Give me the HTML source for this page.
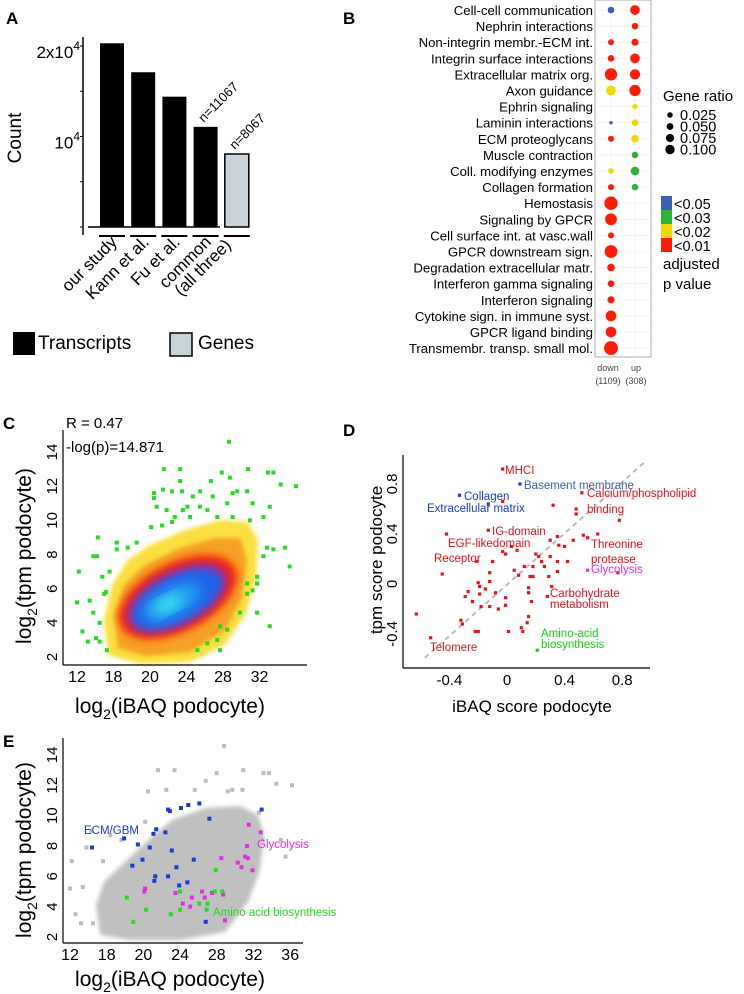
<!DOCTYPE html>
<html><head><meta charset="utf-8"><style>
html,body{margin:0;padding:0;background:#fff;}
svg{display:block;font-family:"Liberation Sans",sans-serif;}
</style></head><body>
<svg id="fig" width="744" height="994" viewBox="0 0 744 994">
<defs>
<filter id="blur2" x="-30%" y="-30%" width="160%" height="160%"><feGaussianBlur stdDeviation="2"/></filter>
<filter id="blur3" x="-30%" y="-30%" width="160%" height="160%"><feGaussianBlur stdDeviation="4"/></filter>
<filter id="blur6" x="-30%" y="-30%" width="160%" height="160%"><feGaussianBlur stdDeviation="7"/></filter>
</defs>
<g font-weight="bold" font-size="17">
<text x="6" y="24">A</text>
<text x="343" y="24">B</text>
<text x="3" y="429">C</text>
<text x="343" y="436">D</text>
<text x="3" y="747">E</text>
</g>
<g id="pA"></g>
<g id="pB"></g>
<g id="pC"></g>
<g id="pD"></g>
<g id="pE"></g>
</svg>
<script>
// ---------- Panel A data ----------
const aCategories = ["our study","Kann et al.","Fu et al.","common","(all three)"];
const aValues = [20300, 17100, 14400, 11067, 8067];
const aKinds = ["Transcripts","Transcripts","Transcripts","Transcripts","Genes"];
const aNotes = ["","","","n=11067","n=8067"];
// ---------- Panel B data ----------
const bTerms = ["Cell-cell communication","Nephrin interactions","Non-integrin membr.-ECM int.","Integrin surface interactions","Extracellular matrix org.","Axon guidance","Ephrin signaling","Laminin interactions","ECM proteoglycans","Muscle contraction","Coll. modifying enzymes","Collagen formation","Hemostasis","Signaling by GPCR","Cell surface int. at vasc.wall","GPCR downstream sign.","Degradation extracellular matr.","Interferon gamma signaling","Interferon signaling","Cytokine sign. in immune syst.","GPCR ligand binding","Transmembr. transp. small mol."];
const bDownRatio = [0.04,null,0.035,0.04,0.095,0.07,null,0.01,0.035,null,0.03,0.035,0.105,0.09,0.035,0.1,0.05,0.04,0.045,0.08,0.08,0.11];
const bDownP = [0.05,null,0.01,0.01,0.01,0.02,null,0.05,0.01,null,0.02,0.01,0.01,0.01,0.01,0.01,0.01,0.01,0.01,0.01,0.01,0.01];
const bUpRatio = [0.07,0.04,0.045,0.07,0.075,0.085,0.03,0.04,0.05,0.04,0.06,0.04,null,null,null,null,null,null,null,null,null,null];
const bUpP = [0.01,0.01,0.01,0.01,0.01,0.01,0.02,0.02,0.02,0.03,0.03,0.03,null,null,null,null,null,null,null,null,null,null];
const bSizeTicks = ["0.025","0.050","0.075","0.100"];
const bPLabels = ["<0.05","<0.03","<0.02","<0.01"];
// ---------- Panel C data ----------
const cGreenX = [28.8,21.6,23.4,23.4,20.5,21.5,20.5,22.5,23.6,25.6,26.8,28.0,28.9,29.7,30.8,30.9,33.1,33.7,34.5,36.2,20.8,21.9,22.8,23.7,24.5,22.5,20.2,21.4,25.6,27.5,29.2,31.1,32.6,33.3,31.4,28.6,26.4,27.0,29.2,24.8,24.2,14.3,14.2,16.4,16.4,17.6,18.6,12.2,13.8,14.8,15.6,15.2,15.0,12.0,13.4,12.6,13.2,14.1,14.5,15.3,14.5,13.8,35.0,35.5,33.7,33.0,32.6,31.9,31.4,30.8,31.9,33.3,27.8,28.6,27.5,26.4,27.8,25.3,31.9,30.8,30.0];
const cGreenY = [14.6,13.0,13.0,12.3,11.6,11.8,11.3,11.7,11.7,11.7,12.3,12.8,12.5,11.7,11.7,13.0,12.8,12.8,12.1,12.0,10.8,10.6,10.2,10.6,10.2,9.9,9.6,9.7,10.8,10.2,10.2,10.0,10.2,10.8,11.0,11.0,10.6,11.4,11.6,11.4,10.8,9.0,7.9,8.7,8.3,8.4,8.7,7.0,7.9,6.7,7.0,5.8,5.7,5.2,5.3,3.5,2.9,3.1,2.9,2.4,4.0,4.6,8.4,7.3,8.3,8.4,7.9,6.7,5.9,5.7,4.6,3.8,3.8,3.6,3.0,2.8,2.4,2.4,6.3,6.3,4.6];
const cXTicks = [12,18,20,24,28,32];
const cYTicks = [2,4,6,8,10,12,14];
// ---------- Panel D data ----------
const dX = [-0.03,-0.03,0.52,0.32,0.48,0.48,0.78,-0.13,-0.42,0.03,0.07,0.30,0.35,0.36,0.40,0.46,0.53,0.56,0.63,-0.03,-0.01,-0.21,-0.10,0.20,0.22,0.30,0.35,0.42,0.24,0.26,0.12,0.18,0.05,0.08,-0.12,-0.45,0.16,0.18,0.29,0.35,0.77,-0.12,-0.20,-0.19,0.31,-0.27,-0.29,-0.15,-0.19,-0.08,0.15,0.15,0.28,-0.24,-0.18,-0.12,-0.01,-0.01,-0.06,0.17,-0.63,-0.32,-0.31,0.15,0.14,-0.22,-0.20,0.01,0.10,0.11,-0.53];
const dY = [0.92,0.66,0.73,0.63,0.60,0.56,0.51,0.43,0.40,0.30,0.27,0.35,0.38,0.31,0.30,0.35,0.39,0.37,0.40,0.26,0.24,0.18,0.18,0.24,0.22,0.22,0.18,0.18,0.18,0.14,0.14,0.14,0.11,0.07,0.09,0.08,0.06,0.06,0.06,0.10,0.09,0.02,0.01,-0.02,-0.02,-0.06,-0.10,-0.04,-0.08,-0.07,-0.03,-0.07,-0.10,-0.14,-0.18,-0.18,-0.11,-0.17,-0.20,-0.14,-0.24,-0.29,-0.32,-0.26,-0.31,-0.38,-0.38,-0.38,-0.35,-0.38,-0.43];
const dBlueX = [0.09,-0.33,-0.13];
const dBlueY = [0.80,0.71,0.64];
const dMagX = [0.56]; const dMagY = [0.11];
const dGreenX = [0.21]; const dGreenY = [-0.53];
const dTicks = ["-0.4","0","0.4","0.8"];
// ---------- Panel E data ----------
const eBlueX = [14.4,17.9,18.8,19.4,19.9,20.7,21.1,21.4,22.4,22.7,22.9,24.1,24.9,26.1,27.2,23.1,23.6,21.3,21.2,22.7,23.9,24.8,25.5,32.9,26.8];
const eBlueY = [7.9,8.5,6.7,8.1,7.1,7.9,8.8,9.1,8.9,10.4,10.3,10.5,10.7,10.8,9.8,7.7,6.6,6.0,5.7,6.0,5.4,5.6,7.1,10.4,3.0];
const eMagX = [20.2,20.1,23.5,24.3,25.1,25.3,26.4,26.7,27.5,28.7,28.9,28.5,31.5,32.8,31.3,31.1,31.4,30.3,30.7,31.9];
const eMagY = [5.2,5.0,4.9,4.2,4.0,4.6,5.0,4.6,4.9,4.8,3.1,7.2,9.4,8.9,8.0,7.3,7.2,6.9,6.6,6.4];
const eGreenX = [18.2,20.3,18.9,23.0,24.0,24.0,26.1,26.9,27.0,27.8,28.6,27.9];
const eGreenY = [4.6,3.8,3.0,3.5,5.0,3.8,4.2,3.8,4.2,5.0,5.0,6.4];
const eGreyX = [28.8,21.6,23.4,20.5,22.5,25.6,26.8,28.0,29.7,30.8,30.9,33.1,33.7,36.2,14.3,16.4,12.2,13.8,12.0,13.4,12.6,13.2,35.0,35.5,33.0,31.9,27.8,25.3,29.2,31.1,32.6,20.2,17.6,15.6,14.5,34.5];
const eGreyY = [14.6,13.0,13.0,11.6,11.7,11.7,12.3,12.8,11.7,11.7,13.0,12.8,12.8,12.0,9.0,8.7,7.0,7.9,5.2,5.3,3.5,2.9,8.4,7.3,8.4,6.7,3.8,2.4,11.6,10.0,10.2,9.6,8.4,7.0,2.9,12.1];
const eXTicks = [12,18,20,24,28,32,36];
const eYTicks = [2,4,6,8,10,12,14];

const NS = "http://www.w3.org/2000/svg";
function mk(parent, tag, attrs, text){
  const el = document.createElementNS(NS, tag);
  for (const k in attrs) el.setAttribute(k, attrs[k]);
  if (text !== undefined) el.textContent = text;
  parent.appendChild(el);
  return el;
}

// ================= Panel A =================
(function(){
  const g = document.getElementById('pA');
  const base = 227, yA = v => base - v * (181/20000);
  const barX = i => 100 + i * 31.2, bw = 24;
  let ax = mk(g,'line',{x1:83,y1:37,x2:83,y2:235,stroke:'#000','stroke-width':1.5});
  
  
  [0,5000,10000,15000,20000].forEach(v=>{
    const t = mk(g,'line',{x1:80,x2:83,y1:yA(v),y2:yA(v),stroke:'#000','stroke-width':1});
    
    
  });
  let bl = mk(g,'line',{x1:88,y1:base,x2:220,y2:base,stroke:'#000','stroke-width':1.5});
  
  
  let l1 = mk(g,'text',{x:80,y:yA(20000)+12,'text-anchor':'end','font-size':17},'2x10');
  
  
  mk(l1,'tspan',{dy:-8,'font-size':12},'4');
  let l2 = mk(g,'text',{x:80,y:yA(10000)+12,'text-anchor':'end','font-size':17},'10');
  
  
  mk(l2,'tspan',{dy:-8,'font-size':12},'4');
  let yt = mk(g,'text',{x:0,y:0,'font-size':19,'text-anchor':'middle',transform:'translate(21,138) rotate(-90)'},'Count');
  
  
  aValues.forEach((v,i)=>{
    const isGene = aKinds[i]==='Genes';
    const r = mk(g,'rect',{x:barX(i),y:yA(v),width:bw,height:base-yA(v),fill:isGene?'#c8d3d8':'#000',stroke:'#000','stroke-width':isGene?1.5:0});
    
    
    const d = mk(g,'line',{x1:barX(i)-1,x2:barX(i)+bw+1,y1:236,y2:236,stroke:'#000','stroke-width':2});
    
    
    if (aNotes[i]){
      const n = mk(g,'text',{x:0,y:0,'font-size':13,transform:`translate(${barX(i)+10},${yA(v)-4}) rotate(-45)`},aNotes[i]);
      
      
    }
  });
  const labPos = [[118,243],[150,243],[181,243],[212,243],[232,246]];
  aCategories.forEach((c,i)=>{
    const t = mk(g,'text',{x:0,y:0,'font-size':17,'text-anchor':'end',transform:`translate(${labPos[i][0]},${labPos[i][1]}) rotate(-45)`},c);
    
    
  });
  let s1 = mk(g,'rect',{x:13,y:332,width:22,height:23,fill:'#000'});
  
  
  let t1 = mk(g,'text',{x:38,y:349,'font-size':19},'Transcripts');
  
  
  let s2 = mk(g,'rect',{x:170,y:333,width:22,height:23,fill:'#c8d3d8',stroke:'#000','stroke-width':1.5});
  
  
  let t2 = mk(g,'text',{x:198,y:349,'font-size':19},'Genes');
  
  
})();

// ================= Panel B =================
(function(){
  const g = document.getElementById('pB');
  const rowY = i => 10 + i * 16.1;
  const colX = [611, 635];
  const rad = r => 1.2 + r * 52;
  const col = p => p<=0.01?'#ff1a0a':p<=0.02?'#f5d800':p<=0.03?'#2db23a':'#3a5fb5';
  const box = mk(g,'rect',{x:595,y:0,width:56,height:357,fill:'#fff',stroke:'#999','stroke-width':0.8});
  
  
  bTerms.forEach((t,i)=>{
    const gl = mk(g,'line',{x1:595,x2:651,y1:rowY(i),y2:rowY(i),stroke:'#eee','stroke-width':0.6});
    
    
    const tx = mk(g,'text',{x:593,y:rowY(i)+5,'text-anchor':'end','font-size':13.2},t);
    
    
  });
  colX.forEach(x=>{
    const gl = mk(g,'line',{x1:x,x2:x,y1:0,y2:357,stroke:'#eee','stroke-width':0.6});
    
    
  });
  bTerms.forEach((t,i)=>{
    if (bDownRatio[i]!==null){
      const c = mk(g,'circle',{cx:colX[0],cy:rowY(i),r:rad(bDownRatio[i]),fill:col(bDownP[i])});
      
      
    }
    if (bUpRatio[i]!==null){
      const c = mk(g,'circle',{cx:colX[1],cy:rowY(i),r:rad(bUpRatio[i]),fill:col(bUpP[i])});
      
      
    }
  });
  const xl = [["down","(1109)",608],["up","(308)",636]];
  xl.forEach(a=>{
    const t1 = mk(g,'text',{x:a[2],y:371,'text-anchor':'middle','font-size':9,fill:'#444'},a[0]);
    
    
    const t2 = mk(g,'text',{x:a[2],y:384,'text-anchor':'middle','font-size':9,fill:'#444'},a[1]);
    
    
  });
  const lt = mk(g,'text',{x:663,y:101,'font-size':15},'Gene ratio');
  
  
  bSizeTicks.forEach((s,i)=>{
    const c = mk(g,'circle',{cx:670,cy:115+i*11.5,r:rad(parseFloat(s))*0.5+1.5,fill:'#000'});
    
    
    const t = mk(g,'text',{x:680,y:120+i*11.5,'font-size':14.5},s);
    
    
  });
  const pc = ['#3a5fb5','#2db23a','#f5d800','#ff1a0a'];
  bPLabels.forEach((p,i)=>{
    const r = mk(g,'rect',{x:661,y:196+i*14,width:11,height:14,fill:pc[i]});
    
    
    const t = mk(g,'text',{x:674,y:209+i*14,'font-size':14.5},p);
    
    
  });
  const a1 = mk(g,'text',{x:663,y:269,'font-size':15},'adjusted');
  
  
  const a2 = mk(g,'text',{x:663,y:289,'font-size':15},'p value');
  
  
})();

// shared axes helper for C and E (tick labels evenly spaced, as in the original figure)
function logAxes(g, x0, x1, yTop, yBot, labStart, labStep, yS, xt, yt, titleYc, titleXy){
  const a1 = mk(g,'line',{x1:x0,y1:yTop,x2:x0,y2:yBot,stroke:'#000','stroke-width':1.2});
  
  
  const a2 = mk(g,'line',{x1:x0,y1:yBot,x2:x1,y2:yBot,stroke:'#000','stroke-width':1.2});
  
  
  yt.forEach(v=>{
    const t = mk(g,'text',{x:0,y:0,'font-size':15,'text-anchor':'middle',transform:`translate(${x0-6},${yS(v)}) rotate(-90)`},String(v));
    
    
  });
  xt.forEach((v,i)=>{
    const t = mk(g,'text',{x:labStart+i*labStep,y:yBot+17,'font-size':16,'text-anchor':'middle'},String(v));
    
    
  });
  const yl = mk(g,'text',{x:0,y:0,'font-size':21,'text-anchor':'middle',transform:`translate(31,${titleYc}) rotate(-90)`},'log');
  
  
  mk(yl,'tspan',{dy:6,'font-size':14},'2');
  mk(yl,'tspan',{dy:-6},'(tpm podocyte)');
  const xlab = mk(g,'text',{x:170,y:titleXy,'font-size':21,'text-anchor':'middle'},'log');
  
  
  mk(xlab,'tspan',{dy:6,'font-size':14},'2');
  mk(xlab,'tspan',{dy:-6},'(iBAQ podocyte)');
}

// ================= Panel C =================
(function(){
  const g = document.getElementById('pC');
  const xS = v => 77 + (v-12)*9.05, yS = v => 657 - (v-2)*17.08;
  const cloud = mk(g,'g',{});
  
  
  mk(cloud,'path',{d:'M108,655 L104,620 L112,585 L128,560 L150,545 L185,530 L220,520 L248,522 L258,540 L256,580 L245,615 L225,645 L190,662 L140,664 Z',fill:'#f9df40',filter:'url(#blur2)'});
  mk(cloud,'path',{d:'M118,648 L114,615 L124,585 L145,565 L180,548 L215,538 L240,538 L247,560 L242,598 L225,630 L190,652 L145,656 Z',fill:'#f7a025',filter:'url(#blur2)'});
  const layers = [
    ['#f02a10',64,34,178,597,'blur3'],
    ['#c0207a',56,28,177,598,'blur3'],
    ['#2060e8',50,24,177,599,'blur3'],
    ['#20a0f0',32,14,172,602,'blur6'],
    ['#40e8f0',16,7,168,604,'blur6']
  ];
  layers.forEach(L=>{
    mk(cloud,'ellipse',{cx:L[3],cy:L[4],rx:L[1],ry:L[2],fill:L[0],transform:`rotate(-27 ${L[3]} ${L[4]})`,filter:`url(#${L[5]})`});
  });
  cGreenX.forEach((x,i)=>{
    const r = mk(g,'rect',{x:xS(x)-2,y:yS(cGreenY[i])-2,width:4,height:4,fill:'#22dd22'});
    
    
  });
  logAxes(g,63,307,430,665,77,36.5,yS,cXTicks,cYTicks,556,713);
  const r1 = mk(g,'text',{x:66,y:428,'font-size':15},'R = 0.47');
  
  
  const r2 = mk(g,'text',{x:66,y:452,'font-size':15},'-log(p)=14.871');
  
  
})();

// ================= Panel D =================
(function(){
  const g = document.getElementById('pD');
  const xS = v => 507 + v*144, yS = v => 584 - v*125;
  const dl = mk(g,'line',{x1:xS(-0.57),y1:yS(-0.59),x2:xS(0.96),y2:yS(0.98),stroke:'#bbb','stroke-width':2,'stroke-dasharray':'5,4'});
  
  
  const pts = (X,Y,c,n)=>X.forEach((x,i)=>{
    const r = mk(g,'rect',{x:xS(x)-1.6,y:yS(Y[i])-1.6,width:3.2,height:3.2,fill:c});
    
    
  });
  pts(dX,dY,'#e8101a','term-point');
  pts(dBlueX,dBlueY,'#1a3ad8','ecm-term-point');
  pts(dMagX,dMagY,'#e030e0','glycolysis-point');
  pts(dGreenX,dGreenY,'#10d010','amino-acid-point');
  const labels = [
    ['MHCI',505,474,'#e8101a'],['Basement membrane',524,489,'#3a5fc0'],['Collagen',464,500,'#1a3ad8'],
    ['Extracellular matrix',427,512,'#1a3ad8'],['Calcium/phospholipid',587,497,'#e8101a'],['binding',587,513,'#e8101a'],
    ['IG-domain',492,535,'#e8101a'],['EGF-likedomain',448,547,'#e8101a'],['Threonine',591,548,'#e8101a'],
    ['protease',591,563,'#e8101a'],['Receptor',434,562,'#e8101a'],['Glycolysis',591,573,'#e030e0'],
    ['Carbohydrate',550,597,'#e8101a'],['metabolism',550,608,'#e8101a'],['Amino-acid',541,637,'#10d010'],
    ['biosynthesis',541,648,'#10d010'],['Telomere',430,651,'#e8101a']
  ];
  labels.forEach(L=>{
    const t = mk(g,'text',{x:L[1],y:L[2],'font-size':11.5,fill:L[3]},L[0]);
    
    
  });
  const a1 = mk(g,'line',{x1:403,y1:455,x2:403,y2:668,stroke:'#000','stroke-width':1.2});
  
  
  const a2 = mk(g,'line',{x1:403,y1:668,x2:650,y2:668,stroke:'#000','stroke-width':1.2});
  
  
  dTicks.forEach(s=>{
    const v = parseFloat(s);
    const t = mk(g,'text',{x:0,y:0,'font-size':15,'text-anchor':'middle',transform:`translate(397,${yS(v)}) rotate(-90)`},s);
    
    
    const u = mk(g,'text',{x:xS(v),y:685,'font-size':15,'text-anchor':'middle'},s);
    
    
  });
  const yl = mk(g,'text',{x:0,y:0,'font-size':17,'text-anchor':'middle',transform:'translate(382,560) rotate(-90)'},'tpm score podocyte');
  
  
  const xl = mk(g,'text',{x:532,y:712,'font-size':17,'text-anchor':'middle'},'iBAQ score podocyte');
  
  
})();

// ================= Panel E =================
(function(){
  const g = document.getElementById('pE');
  const xS = v => 70 + (v-12)*9.17, yS = v => 937 - (v-2)*15.17;
  const cloud = mk(g,'g',{});
  
  
  mk(cloud,'path',{d:'M100,935 L96,905 L104,882 L125,862 L148,840 L172,820 L205,808 L240,806 L258,815 L264,835 L260,870 L248,902 L225,932 L180,940 L130,940 Z',fill:'#c0c0c0',filter:'url(#blur2)'});
  eGreyX.forEach((x,i)=>{
    const r = mk(g,'rect',{x:xS(x)-2,y:yS(eGreyY[i])-2,width:4,height:4,fill:'#bdbdbd'});
    
    
  });
  const pts = (X,Y,c,n)=>X.forEach((x,i)=>{
    const r = mk(g,'rect',{x:xS(x)-2,y:yS(Y[i])-2,width:4,height:4,fill:c});
    
    
  });
  pts(eBlueX,eBlueY,'#1a3ad8','ecm-gbm-point');
  pts(eMagX,eMagY,'#e030e0','glycolysis-point');
  pts(eGreenX,eGreenY,'#22dd22','amino-acid-point');
  logAxes(g,63,303,738,943,70,36.7,yS,eXTicks,eYTicks,850,986);
  const lb = [['ECM/GBM',84,834,'#1a3ad8'],['Glycolysis',257,848,'#e030e0'],['Amino acid biosynthesis',213,916,'#22dd22']];
  lb.forEach(L=>{
    const t = mk(g,'text',{x:L[1],y:L[2],'font-size':11.5,fill:L[3]},L[0]);
    
    
  });
})();
</script>
</body></html>
